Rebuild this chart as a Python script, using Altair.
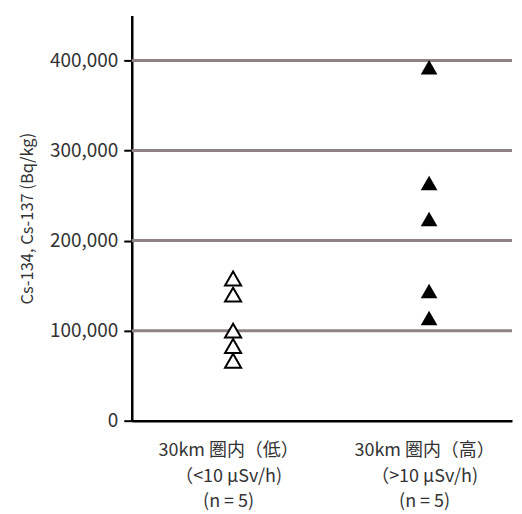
import altair as alt
import pandas as pd

categories = [
    "30km 圏内（低）\n（<10 µSv/h)\n(n = 5)",
    "30km 圏内（高）\n（>10 µSv/h)\n(n = 5)",
]
low_values = [158000, 140000, 100000, 83000, 66500]
high_values = [392500, 264000, 224000, 144000, 114000]
grid_values = [100000, 200000, 300000, 400000]
y_ticks = [0, 100000, 200000, 300000, 400000]

df = pd.DataFrame({
    "group": [categories[0]] * len(low_values) + [categories[1]] * len(high_values),
    "value": low_values + high_values,
    "kind": ["low"] * len(low_values) + ["high"] * len(high_values),
})
grid_df = pd.DataFrame({"g": grid_values})

FONT = "Noto Sans CJK JP"

y_scale = alt.Scale(domain=[0, 450000], nice=False)
x_scale = alt.Scale(domain=categories, type="point", padding=0.47, align=0.55)

y_axis = alt.Axis(
    title="Cs-134, Cs-137 (Bq/kg)",
    values=y_ticks,
    format=",d",
    labelFont=FONT,
    labelFontSize=19,
    labelColor="#333333",
    labelPadding=6,
    tickSize=8,
    tickColor="#000000",
    tickWidth=2,
    domainColor="#000000",
    domainWidth=2.5,
    grid=False,
    titleFont=FONT,
    titleFontSize=16.5,
    titleFontWeight="normal",
    titleColor="#333333",
    titlePadding=14,
)

grid = alt.Chart(grid_df).mark_rule(color="#8e8283", strokeWidth=3).encode(
    y=alt.Y("g:Q", scale=y_scale, axis=y_axis)
)

base = alt.Chart(df).encode(
    x=alt.X(
        "group:N",
        scale=x_scale,
        sort=categories,
        axis=alt.Axis(
            title=None,
            labelAngle=0,
            labelExpr="split(datum.label, '\\n')",
            labelFont=FONT,
            labelFontSize=18,
            labelLineHeight=25.5,
            labelColor="#333333",
            labelPadding=21,
            labelOffset=-5,
            ticks=False,
            domainColor="#000000",
            domainWidth=2.5,
            grid=False,
        ),
    ),
    y=alt.Y("value:Q", scale=y_scale, axis=y_axis),
)

low_pts = base.transform_filter(alt.datum.kind == "low").mark_point(
    shape="triangle-up", size=260, filled=True, fill="#ffffff",
    stroke="#000000", strokeWidth=2, opacity=1,
)
high_pts = base.transform_filter(alt.datum.kind == "high").mark_point(
    shape="triangle-up", size=280, filled=True, color="#000000", opacity=1,
)

chart = alt.layer(grid, low_pts, high_pts).properties(
    width=381,
    height=406,
    padding={"left": 11, "top": 7, "right": 0, "bottom": 0},
).configure(background="#ffffff").configure_view(stroke=None)

chart.save("out.html", embed_options={"renderer": "svg", "actions": False})
